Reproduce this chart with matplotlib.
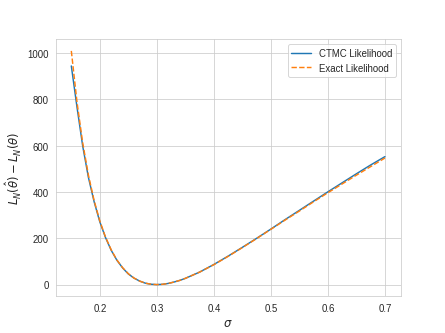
import numpy as np
import matplotlib
matplotlib.use('Agg')
import matplotlib.pyplot as plt
import seaborn as sns

sns.set_style('whitegrid')
plt.rcParams['font.family'] = ['Liberation Sans', 'DejaVu Sans']

# sigma grid and the two likelihood-difference curves
sigma = [0.15, 0.16, 0.17, 0.18, 0.19, 0.2, 0.21, 0.22, 0.23, 0.24, 0.25,
         0.26, 0.27, 0.28, 0.29, 0.3, 0.31, 0.32, 0.33, 0.34, 0.35,
         0.375, 0.4, 0.425, 0.45, 0.475, 0.5, 0.525, 0.55, 0.575, 0.6,
         0.625, 0.65, 0.675, 0.7]
ctmc = [945, 766, 598, 463, 358, 271, 203, 148, 105, 72, 46,
        28, 15, 6, 1.5, 0, 1.3, 5, 11, 18, 27,
        54, 87, 123, 161, 200, 240, 281, 321, 361, 401,
        440, 479, 517, 553]
exact = [1010, 788, 612, 473, 363, 275, 205, 150, 106, 73, 47,
         28, 15, 6, 1.5, 0, 1.3, 5, 11, 18, 27,
         54, 86, 122, 160, 199, 239, 279, 318, 358, 397,
         435, 473, 510, 547]

fig, ax = plt.subplots(figsize=(6.4, 4.8), dpi=69.55)

ax.plot(sigma, ctmc, label='CTMC Likelihood', color='#1f77b4', linewidth=1.5)
ax.plot(sigma, exact, '--', label='Exact Likelihood', color='#ff7f0e', linewidth=1.5)

ax.set_xlabel(r'$\sigma$', fontsize=12)
ax.set_ylabel(r'$L_N(\hat{\theta}) - L_N(\theta)$', fontsize=12)
ax.legend(loc='upper right')

fig.savefig('out.png', dpi=69.55)
